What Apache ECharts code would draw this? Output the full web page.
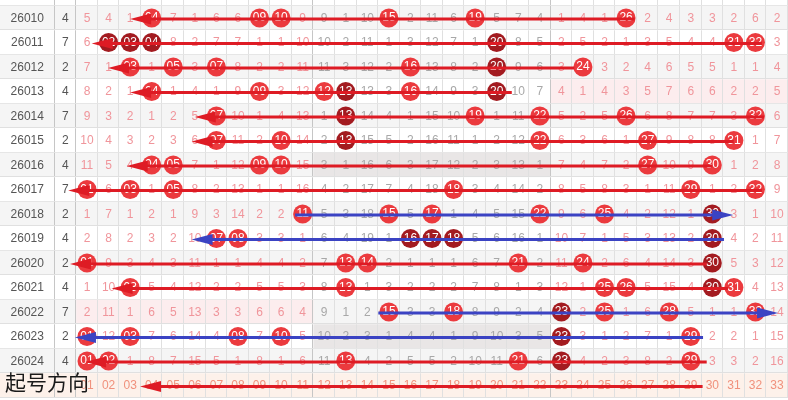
<!DOCTYPE html>
<html><head><meta charset="utf-8">
<script src="https://cdn.jsdelivr.net/npm/echarts@6/dist/echarts.min.js"></script>
<style>html,body{margin:0;padding:0;background:#fff}#c{width:788px;height:400px}</style>
</head><body><div id="c"></div>
<script>
const periods = ['26010','26011','26012','26013','26014','26015','26016','26017','26018','26019','26020','26021','26022','26023','26024'];
const sumValues = [4,7,2,4,7,2,4,7,2,4,2,4,7,2,4];
const prevPeriodBalls = [3,6,13,19,23,25];
const balls = [
  [4,9,10,15,19,26],
  [2,3,4,20,31,32],
  [3,5,7,16,20,24],
  [4,9,12,13,16,20],
  [7,13,19,22,26,32],
  [7,10,13,22,27,31],
  [4,5,9,10,27,30],
  [1,3,5,18,29,32],
  [11,15,17,22,25,30],
  [7,8,16,17,18,30],
  [1,13,14,21,24,30],
  [3,13,25,26,30,31],
  [15,18,23,25,28,32],
  [1,3,8,10,23,29],
  [1,2,13,21,23,29]
];
const darkBalls = [[],[2,3,4,20],[20],[13,20],[13],[13],[],[],[30],[16,17,18,30],[30],[30],[23],[23],[23]];
const omissions = [
  [5,4,1,0,7,1,6,6,0,0,9,9,1,10,0,2,11,6,0,5,7,4,1,4,1,0,2,4,3,3,2,6,2],
  [6,0,0,0,8,2,7,7,1,1,10,10,2,11,1,3,12,7,1,0,8,5,2,5,2,1,3,5,4,4,0,0,3],
  [7,1,0,1,0,3,0,8,2,2,11,11,3,12,2,0,13,8,2,0,9,6,3,0,3,2,4,6,5,5,1,1,4],
  [8,2,1,0,1,4,1,9,0,3,12,0,0,13,3,0,14,9,3,0,10,7,4,1,4,3,5,7,6,6,2,2,5],
  [9,3,2,1,2,5,0,10,1,4,13,1,0,14,4,1,15,10,0,1,11,0,5,2,5,0,6,8,7,7,3,0,6],
  [10,4,3,2,3,6,0,11,2,0,14,2,0,15,5,2,16,11,1,2,12,0,6,3,6,1,0,9,8,8,0,1,7],
  [11,5,4,0,0,7,1,12,0,0,15,3,1,16,6,3,17,12,2,3,13,1,7,4,7,2,0,10,9,0,1,2,8],
  [0,6,0,1,0,8,2,13,1,1,16,4,2,17,7,4,18,0,3,4,14,2,8,5,8,3,1,11,0,1,2,0,9],
  [1,7,1,2,1,9,3,14,2,2,0,5,3,18,0,5,0,1,4,5,15,0,9,6,0,4,2,12,1,0,3,1,10],
  [2,8,2,3,2,10,0,0,3,3,1,6,4,19,1,0,0,0,5,6,16,1,10,7,1,5,3,13,2,0,4,2,11],
  [0,9,3,4,3,11,1,1,4,4,2,7,0,0,2,1,1,1,6,7,0,2,11,0,2,6,4,14,3,0,5,3,12],
  [1,10,0,5,4,12,2,2,5,5,3,8,0,1,3,2,2,2,7,8,1,3,12,1,0,0,5,15,4,0,0,4,13],
  [2,11,1,6,5,13,3,3,6,6,4,9,1,2,0,3,3,0,8,9,2,4,0,2,0,1,6,0,5,1,1,0,14],
  [0,12,0,7,6,14,4,0,7,0,5,10,2,3,1,4,4,1,9,10,3,5,0,3,1,2,7,1,0,2,2,1,15],
  [0,0,1,8,7,15,5,1,8,1,6,11,0,4,2,5,5,2,10,11,0,6,0,4,2,3,8,2,0,3,3,2,16]
];
const footerNumbers = ['01','02','03','04','05','06','07','08','09','10','11','12','13','14','15','16','17','18','19','20','21','22','23','24','25','26','27','28','29','30','31','32','33'];
const footerTitle = '起号方向';
// shaded blocks: row index, zone (1: 01-11, 2: 12-22, 3: 23-33), kind
const shadeRows = [3,6,12,13];
const shadeZones = [3,2,1,2];
const shadeKinds = ['pink','gray','pink','gray'];
// arrows: row index (15 = footer), start column, tip column, colour kind
const arrowRows  = [0,1,2,3,4,5,6,7,8,9,10,11,12,13,14,15];
const arrowFrom  = [26.4,32.3,23.6,20.7,32.4,31.0,30.0,32.3,10.65,30.54,29.74,30.73,14.51,29.57,29.74,29.55];
const arrowTo    = [3.0,1.22,1.97,3.0,6.0,5.85,2.84,0.13,30.97,5.85,0.21,2.14,33.05,0.44,0.91,3.46];
const arrowKinds = ['red','red','red','red','red','red','red','red','blue','blue','red','red','blue','blue','red','red'];

const XMIN = -3.035, XMAX = 33.51, YMIN = -0.735, YMAX = 15.59;
const NUM_FONT = '"Liberation Sans", Arial, sans-serif';
const C = {
  rowGray:'#f5f5f5', footerBg:'#fdf1ea', pinkShade:'#fcedee', grayShade:'#e9e6e6',
  line:'#e0e0e0', lineStrong:'#c6c6c6', pinkText:'#f0959b', grayText:'#a8a8a8',
  footText:'#f0917c', dark:'#555', red:'#eb3a3e', deep:'#a31b20',
  arrowRed:'#de1b24', arrowBlue:'#3b43c3'
};

const bgRows = [];
for (let r = -1; r <= 15; r++) bgRows.push([0, r]);

function zoneRange(z){ return z===1 ? [0.5,11.5] : z===2 ? [11.5,22.5] : [22.5,33.5]; }

function renderBg(params, api){
  const r = api.value(1);
  const children = [];
  const tl = api.coord([XMIN, r-0.5]);
  const br = api.coord([XMAX, r+0.5]);
  let fill = '#fff';
  if (r === 15) fill = C.footerBg; else if (r >= 0 && r % 2 === 0) fill = C.rowGray;
  children.push({type:'rect', shape:{x:tl[0], y:tl[1], width:br[0]-tl[0], height:br[1]-tl[1]}, style:{fill}});
  shadeRows.forEach((sr,i)=>{
    if (sr !== r) return;
    const zr = zoneRange(shadeZones[i]);
    const a = api.coord([zr[0], r-0.5]), b = api.coord([zr[1], r+0.5]);
    children.push({type:'rect', shape:{x:a[0], y:a[1], width:b[0]-a[0], height:b[1]-a[1]}, style:{fill: shadeKinds[i]==='pink'?C.pinkShade:C.grayShade}});
  });
  for (let k = -1; k <= 33; k++) {
    const p = api.coord([k + 0.5, r]);
    const x = Math.round(p[0]) - 0.5;
    const strong = (k === -1 || k === 0 || k === 11 || k === 22);
    children.push({type:'line', shape:{x1:x, y1:tl[1], x2:x, y2:br[1]}, style:{stroke: strong?C.lineStrong:C.line, lineWidth:1}});
  }
  const y = Math.round(br[1]) - 0.5;
  children.push({type:'line', shape:{x1:tl[0], y1:y, x2:br[0], y2:y}, style:{stroke:C.line, lineWidth:1}});
  return {type:'group', children};
}

const textItems = [], textMeta = [];
periods.forEach((p, r) => {
  textItems.push([-1.77, r]); textMeta.push({t:p, c:C.dark, f:'12px '+NUM_FONT});
  textItems.push([0, r]); textMeta.push({t:String(sumValues[r]), c:C.dark, f:'12px '+NUM_FONT});
  omissions[r].forEach((v, i) => {
    const col = i + 1;
    if (balls[r].includes(col)) return;
    const mid = col >= 12 && col <= 22;
    textItems.push([col, r]); textMeta.push({t:String(v), c: mid ? C.grayText : C.pinkText, f:'12px '+NUM_FONT});
  });
});
footerNumbers.forEach((n, i) => {
  textItems.push([i+1, 15]); textMeta.push({t:n, c:C.footText, f:'12px '+NUM_FONT});
});

function renderText(params, api){
  const m = textMeta[params.dataIndex];
  const p = api.coord([api.value(0), api.value(1)]);
  return {type:'text', x:p[0], y:p[1]+0.5, style:{text:m.t, fill:m.c, font:m.f, align:'center', verticalAlign:'middle'}};
}

const ballData = [];
prevPeriodBalls.forEach(b => ballData.push({value:[b,-1], itemStyle:{color:C.red}}));
balls.forEach((row, r) => row.forEach(b => {
  ballData.push({value:[b, r], itemStyle:{color: darkBalls[r].includes(b) ? C.deep : C.red}});
}));

const arrowData = arrowRows.map((r,i)=>[arrowFrom[i], arrowTo[i], r]);
function renderArrow(params, api){
  const i = params.dataIndex;
  const a = api.coord([api.value(0), api.value(2)]);
  const b = api.coord([api.value(1), api.value(2)]);
  const dir = Math.sign(b[0]-a[0]);
  const L = 21, W = 5.5;
  const bx = b[0] - dir*L;
  const color = arrowKinds[i]==='blue' ? C.arrowBlue : C.arrowRed;
  const y = a[1] + 1;
  return {type:'group', children:[
    {type:'line', shape:{x1:a[0], y1:y, x2:bx+dir*2, y2:y}, style:{stroke:color, lineWidth:3}},
    {type:'polygon', shape:{points:[[b[0],y],[bx,y-W],[bx,y+W]]}, style:{fill:color}}
  ]};
}

const chart = echarts.init(document.getElementById('c'), null, {renderer:'canvas'});
chart.setOption({
  animation:false,
  backgroundColor:'#fff',
  grid:{left:0, right:0, top:0, bottom:0, containLabel:false},
  xAxis:{type:'value', min:XMIN, max:XMAX, show:false},
  yAxis:{type:'value', min:YMIN, max:YMAX, inverse:true, show:false},
  graphic:[{type:'text', left:5, top:372, z:100, style:{text:footerTitle, font:'21px "Noto Sans CJK SC"', fill:'#1a1a1a'}}],
  series:[
    {type:'custom', renderItem:renderBg, data:bgRows, z:1, silent:true},
    {type:'custom', renderItem:renderText, data:textItems, z:2, silent:true},
    {type:'scatter', data:ballData, symbol:'circle', symbolSize:19, z:3, silent:true,
      itemStyle:{opacity:1},
      label:{show:true, position:'inside', color:'#fff', fontSize:12, fontFamily:NUM_FONT,
        formatter:p=>String(p.value[0]).padStart(2,'0')}},
    {type:'custom', renderItem:renderArrow, data:arrowData, encode:{x:[0,1], y:2}, z:4, silent:true}
  ]
});
</script></body></html>
